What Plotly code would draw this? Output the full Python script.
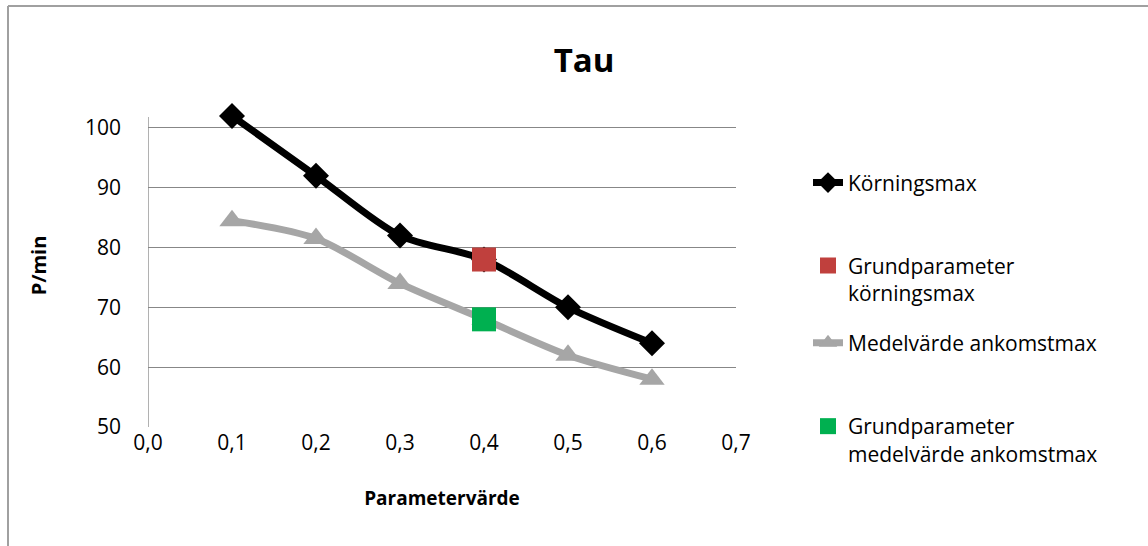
import plotly.graph_objects as go

x_vals = [0.1, 0.2, 0.3, 0.4, 0.5, 0.6]
korningsmax = [102, 92, 82, 78, 70, 64]
medelvarde = [84.5, 81.5, 74, 68, 62, 58]
grund_x = [0.4]
grund_korning = [78]
grund_medel = [68]

names = ["Körningsmax", "Grundparameter<br>körningsmax", "Medelvärde ankomstmax",
         "Grundparameter<br>medelvärde ankomstmax"]

FONT = "Open Sans"
W, H = 1148, 546
L, R = 148, 736
Y100, B = 128, 427          # pixel rows of 100 and 50
YMAX = 104                  # top of plotting range (extra room for 102 point)
unit = (B - Y100) / 50.0    # px per unit
T = B - (YMAX - 50) * unit
pw, ph = R - L, B - T

def px(xp):
    return (xp - L) / pw

def py(yp):
    return (B - yp) / ph

fig = go.Figure()
fig.add_trace(go.Scatter(
    x=x_vals, y=korningsmax, name=names[0], mode="lines+markers",
    line=dict(color="black", width=7, shape="spline", smoothing=0.8),
    marker=dict(symbol="diamond", size=20, color="black"),
    cliponaxis=False, legend="legend"))
fig.add_trace(go.Scatter(
    x=x_vals, y=medelvarde, name=names[2], mode="lines+markers",
    line=dict(color="#a6a6a6", width=7, shape="spline", smoothing=0.8),
    marker=dict(symbol="triangle-up", size=22, color="#a6a6a6"),
    cliponaxis=False, legend="legend3"))
fig.add_trace(go.Scatter(
    x=grund_x, y=grund_korning, name=names[1], mode="markers",
    marker=dict(symbol="square", size=24, color="#c0403d"),
    cliponaxis=False, legend="legend2"))
fig.add_trace(go.Scatter(
    x=grund_x, y=grund_medel, name=names[3], mode="markers",
    marker=dict(symbol="square", size=24, color="#00b050"),
    cliponaxis=False, legend="legend4"))

leg_common = dict(xanchor="left", yanchor="middle", bgcolor="rgba(0,0,0,0)",
                  font=dict(family=FONT, size=21, color="black"), valign="top",
                  itemsizing="trace")
lx = px(808)

fig.update_layout(
    width=W, height=H,
    margin=dict(l=L, r=W - R, t=T, b=H - B),
    paper_bgcolor="white", plot_bgcolor="white",
    separators=",.",
    font=dict(family=FONT, size=21, color="black"),
    showlegend=True,
    title=dict(text="<b>Tau</b>", x=584 / W, xref="container", xanchor="center",
               y=1 - 60 / H, yref="container", yanchor="middle",
               font=dict(family=FONT, size=33, color="black")),
    xaxis=dict(range=[0, 0.7], dtick=0.1, tick0=0, tickformat=".1f",
               showgrid=False, zeroline=False, showline=False,
               ticks="", ticklabelstandoff=1,
               tickfont=dict(family=FONT, size=21, color="black"),
               title=dict(text="<b>Parametervärde</b>", standoff=36,
                          font=dict(family=FONT, size=19, color="black"))),
    yaxis=dict(range=[50, YMAX], tickvals=[50, 60, 70, 80, 90, 100],
               showgrid=True, gridcolor="#878787",
               gridwidth=1.3, zeroline=False, showline=False,
               ticks="", ticklabelstandoff=26,
               tickfont=dict(family=FONT, size=21, color="black"),
               title=dict(text="<b>P/min</b>", standoff=32,
                          font=dict(family=FONT, size=20, color="black"))),
    legend=dict(x=lx, y=py(183), **leg_common),
    legend2=dict(x=lx, y=py(279.5), **leg_common),
    legend3=dict(x=lx, y=py(343), **leg_common),
    legend4=dict(x=lx, y=py(440), **leg_common),
    shapes=[
        dict(type="line", xref="x", yref="paper", x0=0, x1=0,
             y0=0, y1=py(117), line=dict(color="#878787", width=1.3), layer="below"),
        dict(type="line", xref="paper", yref="paper", x0=px(8), x1=px(8),
             y0=py(6), y1=py(560), line=dict(color="#a0a0a0", width=2)),
        dict(type="line", xref="paper", yref="paper", x0=px(8), x1=px(1160),
             y0=py(6), y1=py(6), line=dict(color="#a0a0a0", width=2)),
    ],
)

fig.write_html("out.html")
